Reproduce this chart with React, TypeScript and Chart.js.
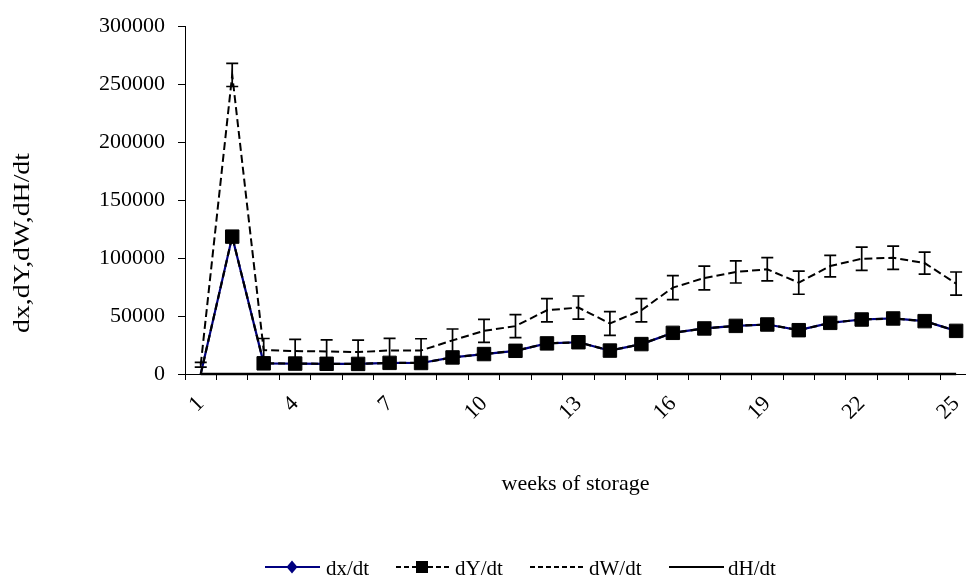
import React, { useEffect, useRef } from 'react';
import { Chart, registerables } from 'chart.js';

Chart.register(...registerables);

const weeks = ['1', '2', '3', '4', '5', '6', '7', '8', '9', '10', '11', '12', '13', '14', '15', '16', '17', '18', '19', '20', '21', '22', '23', '24', '25'];
const dxdt = [0, 118500, 9200, 9000, 8800, 8700, 9600, 9500, 14300, 17200, 20000, 26400, 27400, 20200, 25800, 35500, 39300, 41500, 42700, 37800, 44100, 47000, 47900, 45600, 37200];
const dYdt = [0, 118500, 9200, 9000, 8800, 8700, 9600, 9500, 14300, 17200, 20000, 26400, 27400, 20200, 25800, 35500, 39300, 41500, 42700, 37800, 44100, 47000, 47900, 45600, 37200];
const dWdt = [8000, 258000, 20600, 19800, 19500, 18900, 20300, 20300, 29000, 37200, 41300, 55000, 57300, 43600, 55000, 74500, 82800, 88000, 90300, 78800, 93100, 99400, 100300, 95700, 78000];
const dWerr = [2000, 10000, 10000, 10000, 10000, 10300, 10400, 10100, 9800, 10000, 10000, 10000, 10000, 10200, 10000, 10300, 10300, 9500, 10000, 10000, 9300, 10000, 10000, 9500, 10000];
const dHdt = [0, 0, 0, 0, 0, 0, 0, 0, 0, 0, 0, 0, 0, 0, 0, 0, 0, 0, 0, 0, 0, 0, 0, 0, 0];
const yMin = 0;
const yMax = 300000;
const yStep = 50000;
const xTitle = 'weeks of storage';
const yTitle = 'dx,dY,dW,dH/dt';

const FONT = '"Liberation Serif", "Times New Roman", serif';

export default function App() {
  const ref = useRef<HTMLCanvasElement>(null);

  useEffect(() => {
    const canvas = ref.current;
    if (!canvas) return;

    const errorBars = {
      id: 'errorBars',
      afterDatasetsDraw(chart: any) {
        const meta = chart.getDatasetMeta(2);
        const ys = chart.scales.y;
        const ctx = chart.ctx;
        ctx.save();
        ctx.strokeStyle = '#000';
        ctx.lineWidth = 1.7;
        ctx.setLineDash([]);
        meta.data.forEach((pt: any, i: number) => {
          const x = pt.x;
          const yTop = ys.getPixelForValue(dWdt[i] + dWerr[i]);
          const yBot = ys.getPixelForValue(dWdt[i] - dWerr[i]);
          ctx.beginPath();
          ctx.moveTo(x, yTop);
          ctx.lineTo(x, yBot);
          ctx.moveTo(x - 6, yTop);
          ctx.lineTo(x + 6, yTop);
          ctx.moveTo(x - 6, yBot);
          ctx.lineTo(x + 6, yBot);
          ctx.stroke();
        });
        ctx.restore();
      },
    };

    const texts = {
      id: 'texts',
      afterDraw(chart: any) {
        const ctx = chart.ctx;
        const area = chart.chartArea;
        const ds = chart.data.datasets;
        ctx.save();
        ctx.fillStyle = '#000';
        ctx.textAlign = 'center';
        ctx.textBaseline = 'alphabetic';
        ctx.font = `22px ${FONT}`;
        ctx.fillText(xTitle, (area.left + 966) / 2, 490);

        ctx.save();
        ctx.translate(29, 243);
        ctx.rotate(-Math.PI / 2);
        ctx.font = `23px ${FONT}`;
        const w = ctx.measureText(yTitle).width;
        ctx.scale(180 / w, 1);
        ctx.fillText(yTitle, 0, 0);
        ctx.restore();

        // legend
        const ly = 567;
        ctx.font = `21px ${FONT}`;
        ctx.textAlign = 'left';
        // dx/dt
        ctx.strokeStyle = ds[0].borderColor;
        ctx.lineWidth = 2;
        ctx.setLineDash([]);
        ctx.beginPath();
        ctx.moveTo(265, ly);
        ctx.lineTo(320, ly);
        ctx.stroke();
        ctx.fillStyle = ds[0].borderColor;
        ctx.beginPath();
        ctx.moveTo(292, ly - 6.5);
        ctx.lineTo(297.5, ly);
        ctx.lineTo(292, ly + 6.5);
        ctx.lineTo(286.5, ly);
        ctx.closePath();
        ctx.fill();
        ctx.fillStyle = '#000';
        ctx.fillText(ds[0].label, 326, 575);
        // dY/dt
        ctx.strokeStyle = '#000';
        ctx.setLineDash([5, 3]);
        ctx.beginPath();
        ctx.moveTo(396, ly);
        ctx.lineTo(450, ly);
        ctx.stroke();
        ctx.setLineDash([]);
        ctx.fillRect(416, ly - 6, 12, 12);
        ctx.fillText(ds[1].label, 455, 575);
        // dW/dt
        ctx.setLineDash([5, 3]);
        ctx.beginPath();
        ctx.moveTo(530, ly);
        ctx.lineTo(585, ly);
        ctx.stroke();
        ctx.setLineDash([]);
        ctx.fillText(ds[2].label, 589, 575);
        // dH/dt
        ctx.beginPath();
        ctx.moveTo(669, ly);
        ctx.lineTo(724, ly);
        ctx.stroke();
        ctx.fillText(ds[3].label, 728, 575);
        ctx.restore();
      },
    };

    const chart = new Chart(canvas, {
      type: 'line',
      data: {
        labels: weeks,
        datasets: [
          {
            label: 'dx/dt',
            data: dxdt,
            borderColor: '#000080',
            backgroundColor: '#000080',
            borderWidth: 2.2,
            pointStyle: 'rectRot',
            pointRadius: (c: any) => (c.dataIndex === 0 ? 0 : 6),
            pointBorderWidth: 0,
            tension: 0,
            order: 3,
          },
          {
            label: 'dY/dt',
            data: dYdt,
            borderColor: '#000',
            backgroundColor: '#000',
            borderWidth: 2.2,
            borderDash: [7, 4],
            pointStyle: 'rect',
            pointRadius: (c: any) => (c.dataIndex === 0 ? 0 : 9.5),
            pointBorderWidth: 1,
            pointBorderColor: '#000',
            tension: 0,
            order: 0,
          },
          {
            label: 'dW/dt',
            data: dWdt,
            borderColor: '#000',
            backgroundColor: '#000',
            borderWidth: 2,
            borderDash: [8, 4],
            pointRadius: 0,
            tension: 0,
            order: 1,
          },
          {
            label: 'dH/dt',
            data: dHdt,
            borderColor: '#000',
            backgroundColor: '#000',
            borderWidth: 2.6,
            pointRadius: 0,
            tension: 0,
            clip: 6,
            order: 2,
          },
        ],
      },
      options: {
        responsive: false,
        animation: false,
        devicePixelRatio: 1,
        layout: { padding: { top: 25, right: 2, left: 0, bottom: 0 } },
        plugins: {
          legend: { display: false },
          tooltip: { enabled: false },
        },
        scales: {
          x: {
            type: 'category',
            offset: true,
            grid: {
              display: true,
              offset: true,
              drawOnChartArea: false,
              drawTicks: true,
              tickLength: 6,
              color: '#000',
              lineWidth: 1,
            },
            border: { display: true, color: '#000', width: 1 },
            ticks: {
              autoSkip: false,
              minRotation: 45,
              maxRotation: 45,
              padding: 11,
              color: '#000',
              font: { family: FONT, size: 22 },
              callback: (_v: any, i: number) => (i % 3 === 0 ? weeks[i] : ''),
            },
            afterFit: (scale: any) => {
              scale.height = 205;
            },
          },
          y: {
            min: yMin,
            max: yMax,
            grid: {
              display: true,
              drawOnChartArea: false,
              drawTicks: true,
              tickLength: 7,
              color: '#000',
              lineWidth: 1,
            },
            border: { display: true, color: '#000', width: 1 },
            ticks: {
              stepSize: yStep,
              padding: 13,
              color: '#000',
              font: { family: FONT, size: 22 },
              callback: (v: any) => String(v),
            },
            afterFit: (scale: any) => {
              scale.width = 185;
            },
          },
        },
      },
      plugins: [errorBars, texts],
    });

    return () => chart.destroy();
  }, []);

  return (
    <div
      style={{
        position: 'fixed',
        left: 0,
        top: 0,
        width: 966,
        height: 579,
        overflow: 'hidden',
        background: '#fff',
      }}
    >
      <canvas ref={ref} width={986} height={579} style={{ display: 'block', width: 986, height: 579 }} />
    </div>
  );
}
